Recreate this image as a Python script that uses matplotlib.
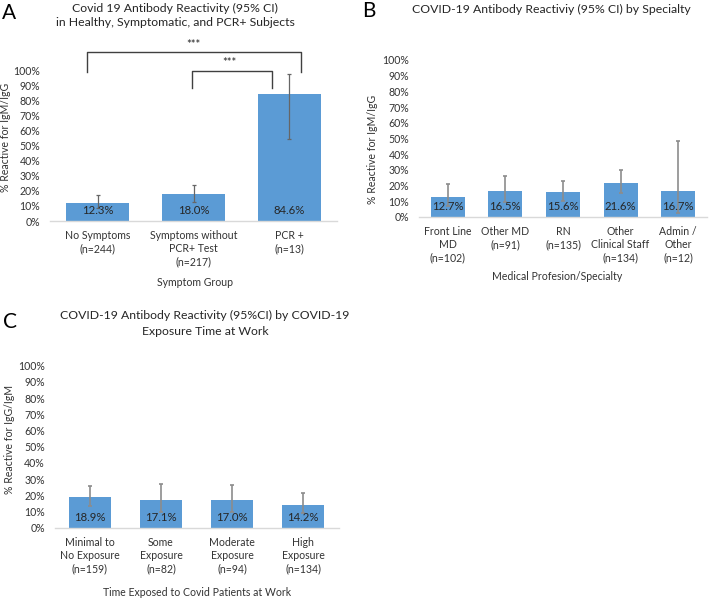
import matplotlib
matplotlib.use("Agg")
import matplotlib.pyplot as plt
import numpy as np

plt.rcParams['font.family'] = ['Lato', 'DejaVu Sans']

# ---------------- data ----------------
a_categories = ["No Symptoms\n(n=244)", "Symptoms without\nPCR+ Test\n(n=217)", "PCR +\n(n=13)"]
a_values = [12.3, 18.0, 84.6]
a_lower = [8.4, 12.9, 54.6]
a_upper = [17.1, 23.7, 98.1]

b_categories = ["Front Line\nMD\n(n=102)", "Other MD\n(n=91)", "RN\n(n=135)",
                "Other\nClinical Staff\n(n=134)", "Admin /\nOther\n(n=12)"]
b_values = [12.7, 16.5, 15.6, 21.6, 16.7]
b_lower = [7.0, 9.5, 9.9, 15.0, 2.1]
b_upper = [21.0, 25.8, 22.8, 29.6, 48.4]

c_categories = ["Minimal to\nNo Exposure\n(n=159)", "Some\nExposure\n(n=82)",
                "Moderate\nExposure\n(n=94)", "High\nExposure\n(n=134)"]
c_values = [18.9, 17.1, 17.0, 14.2]
c_lower = [13.4, 9.5, 9.9, 8.9]
c_upper = [25.9, 27.2, 26.4, 21.2]

yticks = list(range(0, 101, 10))

# ---------------- layout ----------------
W, H = 709, 598
fig = plt.figure(figsize=(W / 100, H / 100), dpi=100)
fig.patch.set_facecolor('white')

BAR = '#5B9BD5'
TXT = '#262626'
TICK = '#333333'


def px_axes(x0, y0, x1, y1):
    return fig.add_axes([x0 / W, 1 - y1 / H, (x1 - x0) / W, (y1 - y0) / H])


def ftext(x, y, s, **kw):
    fig.text(x / W, 1 - y / H, s, **kw)


def draw_panel(ax, cats, vals, lo, hi, width, ecolor, elw):
    x = np.arange(len(cats))
    yerr = [np.array(vals) - np.array(lo), np.array(hi) - np.array(vals)]
    ax.bar(x, vals, width=width, color=BAR, edgecolor='none', zorder=2)
    ax.errorbar(x, vals, yerr=yerr, fmt='none', ecolor=ecolor, elinewidth=elw,
                capsize=1.6, capthick=elw, zorder=3)
    for xi, v in zip(x, vals):
        ax.annotate(f"{v:.1f}%", xy=(xi, 0), xytext=(0, 7.3), textcoords='offset points',
                    ha='center', va='center', fontsize=8.2, color=TXT, zorder=4)
    ax.set_xlim(-0.5, len(cats) - 0.5)
    ax.set_ylim(0, 100)
    ax.set_yticks(yticks)
    ax.set_yticklabels([f"{t}%" for t in yticks], fontsize=7.6, color=TICK)
    ax.set_xticks(x)
    ax.set_xticklabels(cats, fontsize=7.6, color=TICK, linespacing=1.25, va='top')
    ax.tick_params(axis='both', length=0)
    ax.tick_params(axis='y', pad=7)
    ax.tick_params(axis='x', pad=6.5)
    for s in ['top', 'right', 'left']:
        ax.spines[s].set_visible(False)
    ax.spines['bottom'].set_color('#D9D9D9')
    ax.spines['bottom'].set_linewidth(1.0)
    ax.set_facecolor('none')


# Panel A
axA = px_axes(50, 70.7, 337, 221)
draw_panel(axA, a_categories, a_values, a_lower, a_upper, 0.66, '#666666', 0.9)
ftext(2, 13, "A", fontsize=15, color='black', ha='left', va='center')
ftext(175, 8, "Covid 19 Antibody Reactivity (95% CI)", fontsize=8.8, color=TXT, ha='center', va='center')
ftext(175, 22.5, "in Healthy, Symptomatic, and PCR+ Subjects", fontsize=8.8, color=TXT, ha='center', va='center')
ftext(6, 137, "% Reactive for IgM/IgG", fontsize=7.6, color=TICK, ha='center', va='center', rotation=90)
ftext(195, 283, "Symptom Group", fontsize=7.6, color=TICK, ha='center', va='center')

# significance brackets (data coords)
br = dict(color='#404040', lw=1.0, clip_on=False, zorder=5)
axA.plot([-0.115, -0.115, 2.12, 2.12], [99, 112.5, 112.5, 99], **br)
axA.plot([0.98, 0.98, 1.82, 1.82], [88.5, 100, 100, 88.5], **br)
axA.text(1.0, 114.0, "***", ha='center', va='bottom', fontsize=8, color=TXT, clip_on=False)
axA.text(1.38, 101.5, "***", ha='center', va='bottom', fontsize=8, color=TXT, clip_on=False)

# Panel B
axB = px_axes(419, 60, 707, 216.7)
draw_panel(axB, b_categories, b_values, b_lower, b_upper, 0.59, '#8C8C8C', 1.2)
ftext(362, 11, "B", fontsize=15, color='black', ha='left', va='center')
ftext(551, 9, "COVID-19 Antibody Reactiviy (95% CI) by Specialty", fontsize=8.8, color=TXT, ha='center', va='center')
ftext(372, 149, "% Reactive for IgM/IgG", fontsize=7.6, color=TICK, ha='center', va='center', rotation=90)
ftext(557, 277, "Medical Profesion/Specialty", fontsize=7.6, color=TICK, ha='center', va='center')

# Panel C
axC = px_axes(54.5, 365.7, 338.5, 527.7)
draw_panel(axC, c_categories, c_values, c_lower, c_upper, 0.585, '#8C8C8C', 1.2)
ftext(3, 322, "C", fontsize=15, color='black', ha='left', va='center')
ftext(205, 315, "COVID-19 Antibody Reactivity (95%CI) by COVID-19", fontsize=8.8, color=TXT, ha='center', va='center')
ftext(205, 331.5, "Exposure Time at Work", fontsize=8.8, color=TXT, ha='center', va='center')
ftext(10, 439, "% Reactive for IgG/IgM", fontsize=7.6, color=TICK, ha='center', va='center', rotation=90)
ftext(197, 592, "Time Exposed to Covid Patients at Work", fontsize=7.6, color=TICK, ha='center', va='center')

fig.savefig("out.png", dpi=100, facecolor='white')
